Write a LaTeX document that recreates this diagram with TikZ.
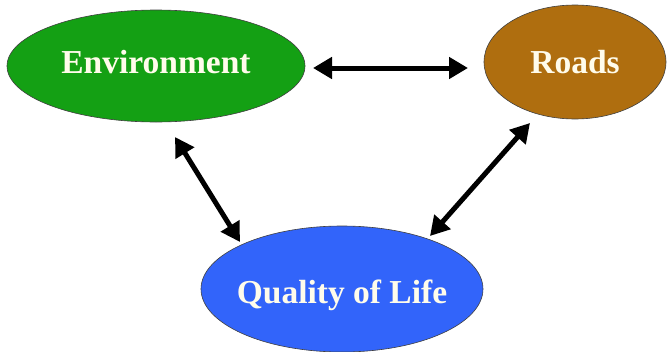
\documentclass[tikz,border=0pt]{standalone}
\usepackage{fontspec}
\setmainfont{Liberation Serif}
\usetikzlibrary{shapes.geometric,arrows.meta,calc}
\definecolor{envgreen}{RGB}{20,160,20}
\definecolor{roadbrown}{RGB}{175,110,15}
\definecolor{qolblue}{RGB}{50,100,250}
\definecolor{labelwhite}{RGB}{255,252,235}
\newcommand{\blobtext}[2]{\makebox[0pt]{\raisebox{#1}[0pt][0pt]{#2}}}
\tikzset{
  blob/.style={ellipse, draw=black!75, line width=0.6pt, inner sep=0pt,
    text=labelwhite, font=\fontsize{33.5}{40}\selectfont\bfseries},
  link/.style={line width=5pt,
    {Triangle[length=19pt,width=21pt]}-{Triangle[length=19pt,width=21pt]}}
}
\begin{document}
\begin{tikzpicture}[x=1pt,y=-1pt]
\useasboundingbox (0,0) rectangle (667,351);
\node[blob, fill=envgreen, minimum width=298pt, minimum height=112pt] (env) at (156,66) {\blobtext{-7.5pt}{Environment}};
\node[blob, fill=roadbrown, minimum width=182pt, minimum height=114pt] (roads) at (575,62) {\blobtext{-11pt}{Roads}};
\node[blob, fill=qolblue, minimum width=282pt, minimum height=126pt] (qol) at (342,289) {\blobtext{-14pt}{Quality of Life}};
\draw[link] ($(env.center)+(157,2)$) -- ($(roads.center)+(-107,6)$);
\draw[link] ($(env.center)+(19,71)$) -- ($(qol.center)+(-102,-47)$);
\draw[link] ($(roads.center)+(-45,61)$) -- ($(qol.center)+(88,-53)$);
\end{tikzpicture}
\end{document}
